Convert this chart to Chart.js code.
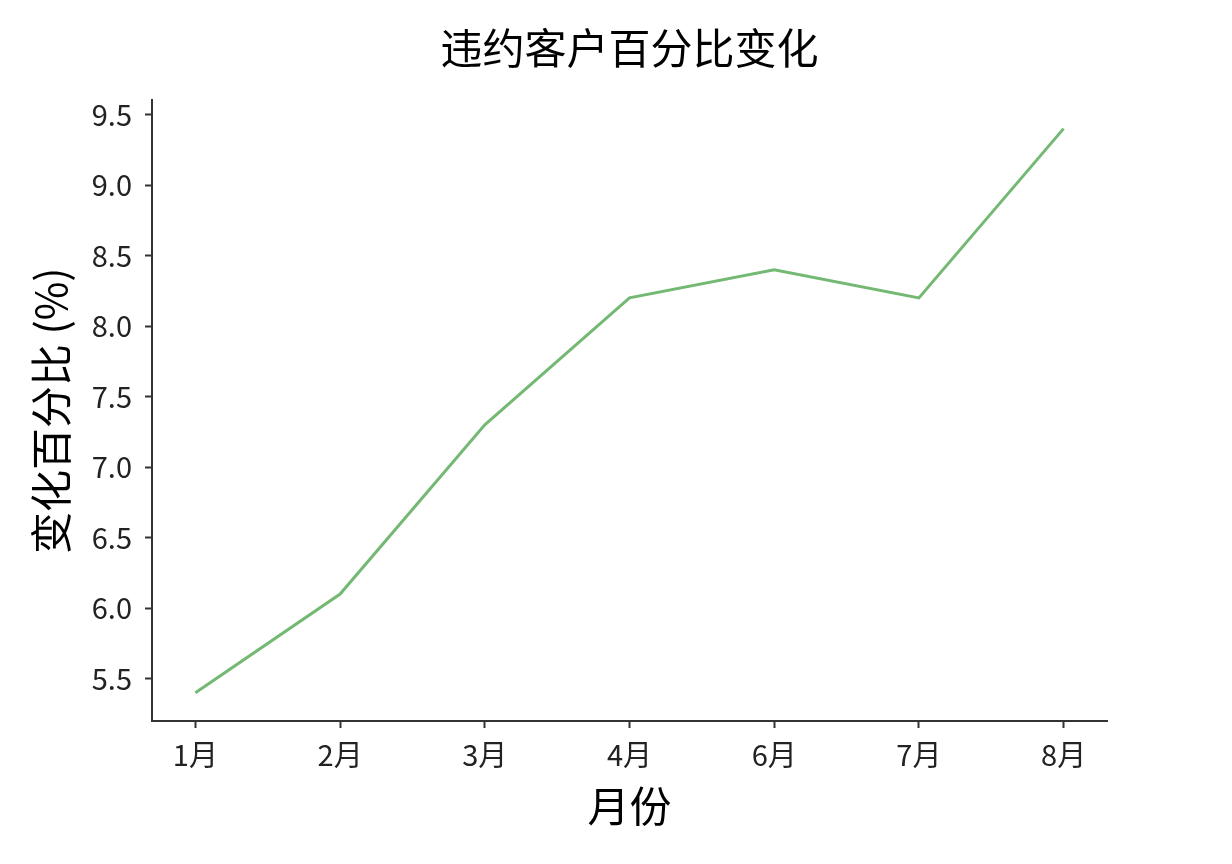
<!DOCTYPE html>
<html>
<head>
<meta charset="utf-8">
<script src="https://cdn.jsdelivr.net/npm/chart.js@4"></script>
<style>
  body { margin: 0; background: #fff; }
</style>
</head>
<body>
<canvas id="rate_chart" width="1232" height="864"></canvas>
<script>
const months = ["1月", "2月", "3月", "4月", "6月", "7月", "8月"];
const rates = [5.4, 6.1, 7.3, 8.2, 8.4, 8.2, 9.4];
const yTicks = [5.5, 6.0, 6.5, 7.0, 7.5, 8.0, 8.5, 9.0, 9.5];

const cjk = "'Noto Sans CJK SC', 'Noto Sans', sans-serif";

// center the title over the plot area, not the whole canvas
const titleOverPlot = {
  id: "titleOverPlot",
  afterLayout(chart) {
    if (chart.titleBlock) {
      chart.titleBlock.left = chart.chartArea.left;
      chart.titleBlock.right = chart.chartArea.right;
    }
  }
};

new Chart("rate_chart", {
  type: "line",
  plugins: [titleOverPlot],
  data: {
    datasets: [{
      data: rates.map((v, i) => ({x: i, y: v})),
      borderColor: "rgba(0, 128, 0, 0.55)",
      borderWidth: 3,
      pointRadius: 0,
      tension: 0,
      fill: false
    }]
  },
  options: {
    responsive: false,
    devicePixelRatio: 1,
    animation: false,
    layout: {padding: {left: 0, right: 125, top: 0, bottom: 0}},
    plugins: {
      legend: {display: false},
      tooltip: {enabled: false},
      title: {
        display: true,
        text: "违约客户百分比变化",
        color: "#000",
        font: {family: cjk, size: 42, weight: "normal"},
        padding: {top: 23, bottom: 27}
      }
    },
    scales: {
      x: {
        type: "linear",
        min: -0.3,
        max: 6.3,
        afterBuildTicks: (scale) => { scale.ticks = months.map((m, i) => ({value: i})); },
        afterFit: (scale) => { scale.height = 143; },
        ticks: {
          callback: (v) => months[v],
          color: "#222",
          font: {family: cjk, size: 29},
          padding: 10,
          maxRotation: 0,
          autoSkip: false
        },
        grid: {drawOnChartArea: false, drawTicks: true, tickLength: 7, tickWidth: 2, tickColor: "#333"},
        border: {display: true, color: "#333", width: 2},
        title: {
          display: true,
          text: "月份",
          color: "#000",
          font: {family: cjk, size: 42},
          padding: {top: 0, bottom: 33}
        }
      },
      y: {
        min: 5.2,
        max: 9.6,
        afterBuildTicks: (scale) => { scale.ticks = yTicks.map(v => ({value: v})); },
        afterFit: (scale) => { scale.width = 152; },
        ticks: {
          callback: (v) => v.toFixed(1),
          color: "#222",
          font: {family: cjk, size: 29},
          padding: 13
        },
        grid: {drawOnChartArea: false, drawTicks: true, tickLength: 7, tickWidth: 2, tickColor: "#333"},
        border: {display: true, color: "#333", width: 2},
        title: {
          display: true,
          text: "变化百分比 (%)",
          color: "#000",
          font: {family: cjk, size: 42},
          padding: {top: 26, bottom: 0}
        }
      }
    }
  }
});
</script>
</body>
</html>
